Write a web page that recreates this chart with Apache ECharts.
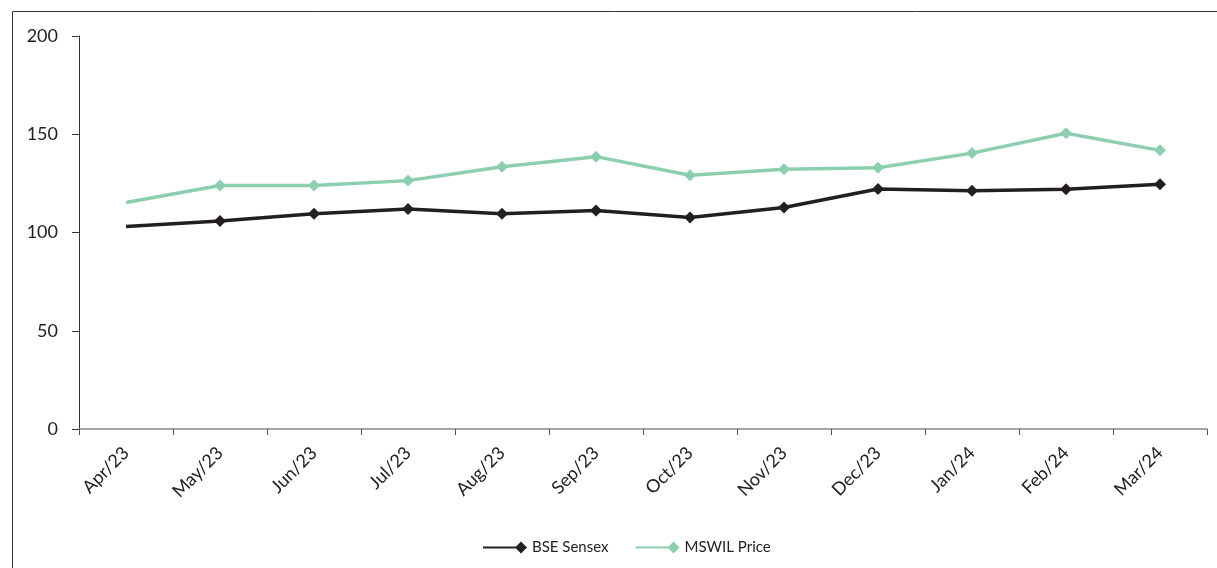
<!DOCTYPE html>
<html>
<head>
<meta charset="utf-8">
<script src="https://cdn.jsdelivr.net/npm/echarts@6/dist/echarts.min.js"></script>
<style>
  html, body { margin: 0; padding: 0; background: #fff; }
  #main { width: 1217px; height: 568px; }
</style>
</head>
<body>
<div id="main"></div>
<script>
// month labels
var months = ['Apr/23', 'May/23', 'Jun/23', 'Jul/23', 'Aug/23', 'Sep/23',
              'Oct/23', 'Nov/23', 'Dec/23', 'Jan/24', 'Feb/24', 'Mar/24'];
// index values
var bseSensex = [103.0, 105.8, 109.5, 111.9, 109.5, 111.2, 107.6, 112.7, 122.1, 121.3, 122.0, 124.5];
var mswilPrice = [115.3, 123.9, 123.9, 126.4, 133.5, 138.6, 129.1, 132.2, 132.9, 140.4, 150.5, 141.8];
var yTicks = [0, 50, 100, 150, 200];

var font = 'Lato, "Open Sans", sans-serif';
var black = '#231f20';
var green = '#8ccfae';

// first point of each series is drawn without a marker
function toData(arr) {
  return arr.map(function (v, i) {
    return i === 0 ? { value: v, symbol: 'none' } : v;
  });
}

var legendIcon = 'path://M0,5L34,5L34,7L0,7Z M38,0L44,6L38,12L32,6Z';

var chart = echarts.init(document.getElementById('main'));
chart.setOption({
  animation: false,
  textStyle: { fontFamily: font },
  graphic: [{
    type: 'rect',
    shape: { x: 12.5, y: 11.5, width: 1400, height: 800 },
    style: { fill: 'none', stroke: '#333', lineWidth: 1 },
    silent: true
  }],
  grid: { left: 79, top: 36, right: 10, bottom: 139 },
  legend: {
    top: 535,
    left: 478,
    itemWidth: 44,
    itemHeight: 12,
    itemGap: 27,
    textStyle: { fontSize: 15, color: '#222', fontFamily: font },
    data: [
      { name: 'BSE Sensex', icon: legendIcon },
      { name: 'MSWIL Price', icon: legendIcon }
    ]
  },
  xAxis: {
    type: 'category',
    data: months,
    boundaryGap: true,
    axisLine: { lineStyle: { color: '#888', width: 1.5 } },
    axisTick: { show: true, length: 6, lineStyle: { color: '#555' } },
    axisLabel: { rotate: 45, fontSize: 18, margin: 21, color: '#222', fontFamily: font }
  },
  yAxis: {
    type: 'value',
    min: yTicks[0],
    max: yTicks[yTicks.length - 1],
    interval: 50,
    splitLine: { show: false },
    axisLine: { show: true, lineStyle: { color: '#333', width: 1 } },
    axisTick: { show: true, length: 7, lineStyle: { color: '#333' } },
    axisLabel: { fontSize: 18, margin: 21, color: '#222', fontFamily: font }
  },
  series: [
    {
      name: 'BSE Sensex',
      type: 'line',
      data: toData(bseSensex),
      symbol: 'diamond',
      symbolSize: 12,
      lineStyle: { color: black, width: 3.5 },
      itemStyle: { color: black }
    },
    {
      name: 'MSWIL Price',
      type: 'line',
      data: toData(mswilPrice),
      symbol: 'diamond',
      symbolSize: 12,
      lineStyle: { color: green, width: 3.5 },
      itemStyle: { color: green }
    }
  ]
});
</script>
</body>
</html>
